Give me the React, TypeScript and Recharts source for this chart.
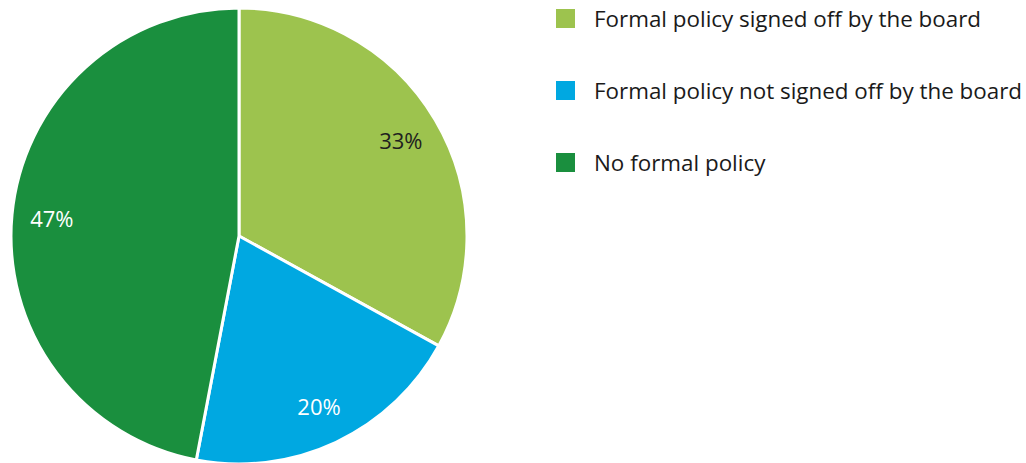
import { PieChart, Pie, Cell } from 'recharts';

const categories = [
  'Formal policy signed off by the board',
  'Formal policy not signed off by the board',
  'No formal policy',
];
const shares = [33, 20, 47];
const colors = ['#9DC34E', '#00A8E1', '#1A8F3E'];
const labelColors = ['#1f1f1f', '#ffffff', '#ffffff'];

const data = categories.map((name, i) => ({ name, value: shares[i] }));

const RADIAN = Math.PI / 180;

const renderLabel = (props: any) => {
  const { cx, cy, midAngle, index, value } = props;
  const r = 188;
  const x = cx + r * Math.cos(-midAngle * RADIAN);
  const y = cy + r * Math.sin(-midAngle * RADIAN);
  return (
    <text
      x={x}
      y={y}
      fill={labelColors[index]}
      textAnchor="middle"
      dominantBaseline="central"
      fontSize={22}
      fontFamily="'Open Sans', sans-serif"
    >
      {value}%
    </text>
  );
};

const LegendBox = () => (
  <div style={{ position: 'absolute', left: 556, top: 0, fontFamily: "'Open Sans', sans-serif" }}>
    {data.map((d, i) => (
      <div
        key={d.name}
        style={{ position: 'absolute', top: i * 72, left: 0, display: 'flex', alignItems: 'center', height: 36 }}
      >
        <div style={{ width: 19, height: 19, background: colors[i], marginRight: 19, flexShrink: 0 }} />
        <span style={{ fontSize: 22.4, color: '#1a1a1a', whiteSpace: 'nowrap' }}>{d.name}</span>
      </div>
    ))}
  </div>
);

export default function App() {
  return (
    <div style={{ position: 'absolute', left: 0, top: 0, width: 1026, height: 463, background: '#fff' }}>
      <PieChart width={1026} height={463} margin={{ top: 0, right: 0, bottom: 0, left: 0 }}>
        <Pie
          data={data}
          dataKey="value"
          cx={239}
          cy={236}
          outerRadius={228}
          startAngle={90}
          endAngle={-270}
          stroke="#ffffff"
          strokeWidth={3}
          label={renderLabel}
          labelLine={false}
          isAnimationActive={false}
        >
          {data.map((d, i) => (
            <Cell key={d.name} fill={colors[i]} />
          ))}
        </Pie>
      </PieChart>
      <LegendBox />
    </div>
  );
}
